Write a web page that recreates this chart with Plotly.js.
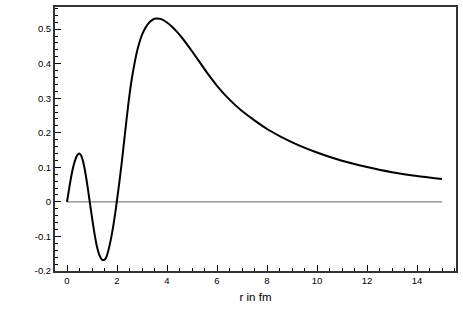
<!DOCTYPE html>
<html>
<head>
<meta charset="utf-8">
<script src="https://cdn.plot.ly/plotly-3.0.1.min.js"></script>
<style>html,body{margin:0;padding:0;background:#fff;}#chart{width:463px;height:327px;}</style>
</head>
<body>
<div id="chart"></div>
<script>
var rValues = [0, 0.1, 0.2, 0.3, 0.4, 0.48, 0.56, 0.64, 0.72, 0.8, 0.9, 1.0, 1.1, 1.2, 1.3, 1.4, 1.48, 1.56, 1.65, 1.75, 1.85, 1.95, 2.0, 2.1, 2.2, 2.3, 2.4, 2.5, 2.6, 2.7, 2.8, 2.9, 3.0, 3.1, 3.2, 3.3, 3.4, 3.5, 3.6, 3.8, 4.0, 4.2, 4.4, 4.6, 4.8, 5.0, 5.3, 5.6, 6.0, 6.5, 7.0, 7.5, 8.0, 8.6, 9.3, 10.0, 11.0, 12.0, 13.0, 14.0, 15.0];
var waveValues = [0, 0.045, 0.085, 0.115, 0.134, 0.14, 0.135, 0.118, 0.09, 0.055, 0.005, -0.045, -0.092, -0.13, -0.155, -0.167, -0.168, -0.162, -0.142, -0.11, -0.07, -0.022, 0.005, 0.06, 0.12, 0.185, 0.25, 0.31, 0.36, 0.40, 0.435, 0.462, 0.483, 0.499, 0.511, 0.520, 0.526, 0.530, 0.531, 0.528, 0.519, 0.507, 0.492, 0.475, 0.456, 0.436, 0.405, 0.374, 0.336, 0.296, 0.263, 0.236, 0.211, 0.187, 0.163, 0.143, 0.119, 0.101, 0.086, 0.075, 0.066];
var zeroX = [0, 15];
var zeroY = [0, 0];
var xTickVals = [0, 2, 4, 6, 8, 10, 12, 14];
var yTickVals = [-0.2, -0.1, 0, 0.1, 0.2, 0.3, 0.4, 0.5];
var yTickText = ['-0.2', '-0.1', '0', '0.1', '0.2', '0.3', '0.4', '0.5'];

var traces = [
  {x: zeroX, y: zeroY, mode: 'lines', line: {color: '#666', width: 1}, hoverinfo: 'skip'},
  {x: rValues, y: waveValues, mode: 'lines', line: {color: '#000', width: 2, shape: 'spline', smoothing: 0.6}}
];

var layout = {
  width: 463, height: 327,
  margin: {l: 55, r: 7, t: 7, b: 56},
  paper_bgcolor: '#fff', plot_bgcolor: '#fff',
  showlegend: false,
  font: {family: 'Liberation Sans, Arial, sans-serif', size: 9.5, color: '#000'},
  xaxis: {
    range: [-0.48, 15.56], showgrid: false, zeroline: false,
    tickvals: xTickVals, ticks: 'inside', ticklen: 6, tickwidth: 1, tickcolor: '#000',
    showline: true, linecolor: '#333', linewidth: 2, mirror: true,
    minor: {dtick: 0.5, tick0: 0, ticks: 'inside', ticklen: 3, tickcolor: '#000', showgrid: false},
    title: {text: 'r in fm', font: {size: 11.5}, standoff: 8}
  },
  yaxis: {
    range: [-0.2, 0.564], showgrid: false, zeroline: false,
    tickvals: yTickVals, ticktext: yTickText, ticks: 'inside', ticklen: 6, tickwidth: 1, tickcolor: '#000',
    showline: true, linecolor: '#333', linewidth: 2, mirror: true,
    minor: {dtick: 0.02, tick0: 0, ticks: 'inside', ticklen: 3, tickcolor: '#000', showgrid: false}
  }
};
Plotly.newPlot('chart', traces, layout, {staticPlot: true, displayModeBar: false});
</script>
</body>
</html>
